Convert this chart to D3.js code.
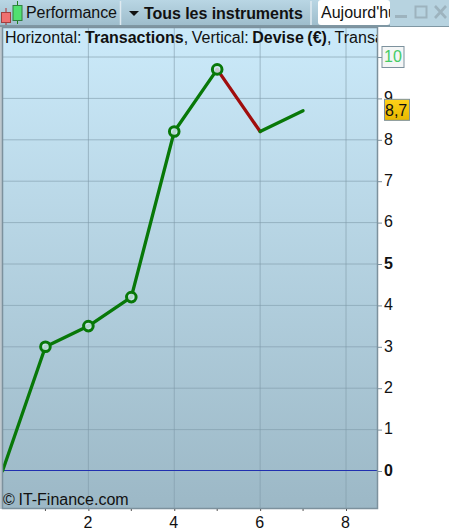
<!DOCTYPE html>
<html><head><meta charset="utf-8">
<script src="https://cdn.jsdelivr.net/npm/d3@7"></script>
<style>html,body{margin:0;padding:0;background:#fff}svg{display:block}text{font-family:"Liberation Sans",Arial,sans-serif}</style>
</head><body><svg id="c" width="449" height="531"></svg>
<script>
const transactions=[0,1,2,3,4,5,6,7];
const devise=[0,3,3.5,4.2,8.2,9.7,8.2,8.7];
const markerIdx=[1,2,3,4,5];
const xTicks=[2,4,6,8];
const xMinor=[1,3,5,7];
const yTicks=[0,1,2,3,4,5,6,7,8,9,10];
const boldY=[0,5];
const svg=d3.select("#c");
const x=d3.scaleLinear().domain([0,8]).range([2.5,346]);
const y=d3.scaleLinear().domain([0,10]).range([471,57]);
const P={l:2,r:378,t:27,b:509};
const defs=svg.append("defs");
const bg=defs.append("linearGradient").attr("id","bg").attr("x1",0).attr("x2",0).attr("y1",0).attr("y2",1);
bg.append("stop").attr("offset",0).attr("stop-color","#cbeafa");
bg.append("stop").attr("offset",1).attr("stop-color","#9cb8c6");
const tb=defs.append("linearGradient").attr("id","tb").attr("x1",0).attr("x2",0).attr("y1",0).attr("y2",1);
tb.append("stop").attr("offset",0).attr("stop-color","#b9d6e4");
tb.append("stop").attr("offset",1).attr("stop-color","#9dbccb");
const gold=defs.append("linearGradient").attr("id","gold").attr("x1",0).attr("x2",0).attr("y1",0).attr("y2",1);
gold.append("stop").attr("offset",0).attr("stop-color","#ffd21a");
gold.append("stop").attr("offset",1).attr("stop-color","#e8b800");
// toolbar
svg.append("rect").attr("width",449).attr("height",26).attr("fill","url(#tb)");
svg.append("rect").attr("y",25).attr("width",449).attr("height",2).attr("fill","#7f97a3");
svg.append("rect").attr("x",379).attr("y",27).attr("width",70).attr("height",504).attr("fill","#fff");
svg.append("rect").attr("x",0).attr("y",509).attr("width",449).attr("height",22).attr("fill","#fff");
// candle icon
svg.append("line").attr("x1",6).attr("x2",6).attr("y1",8).attr("y2",25).attr("stroke","#b03030");
svg.append("rect").attr("x",1.5).attr("y",12.5).attr("width",9).attr("height",10).attr("fill","#f07070").attr("stroke","#a04040");
svg.append("line").attr("x1",17.5).attr("x2",17.5).attr("y1",1).attr("y2",24).attr("stroke","#208020");
svg.append("rect").attr("x",13).attr("y",5.5).attr("width",9).attr("height",15).attr("fill","#50e070").attr("stroke","#308040");
svg.append("text").attr("x",26).attr("y",18).attr("font-size",16).attr("letter-spacing",-0.06).attr("fill","#111").text("Performance");
svg.append("line").attr("x1",120.5).attr("x2",120.5).attr("y1",1).attr("y2",25).attr("stroke","#dfeaf0").attr("stroke-width",1.5);
svg.append("path").attr("d","M129 11h10l-5 5z").attr("fill","#111");
svg.append("text").attr("x",144).attr("y",18.5).attr("font-size",16).attr("font-weight","bold").attr("letter-spacing",-0.05).attr("fill","#111").text("Tous les instruments");
svg.append("line").attr("x1",311).attr("x2",311).attr("y1",1).attr("y2",25).attr("stroke","#dfeaf0").attr("stroke-width",1.5);
svg.append("rect").attr("x",318).attr("y",0).attr("width",72).attr("height",25).attr("rx",3).attr("fill","#fff");
svg.append("text").attr("x",321).attr("y",18).attr("font-size",16).attr("fill","#111").text("Aujourd'hui").attr("clip-path","url(#ac)");
defs.append("clipPath").attr("id","ac").append("rect").attr("x",318).attr("y",0).attr("width",72).attr("height",25);
svg.append("rect").attr("x",390).attr("y",0).attr("width",59).attr("height",26).attr("fill","#b7d3e0");
svg.append("rect").attr("x",395).attr("y",15).attr("width",12).attr("height",3).attr("fill","#9db3be");
svg.append("rect").attr("x",415.5).attr("y",6.5).attr("width",11).attr("height",11).attr("fill","none").attr("stroke","#9db3be").attr("stroke-width",2);
svg.append("path").attr("d","M435 6l11 12M446 6l-11 12").attr("stroke","#9db3be").attr("stroke-width",2.6).attr("fill","none");
// plot
svg.append("rect").attr("x",P.l).attr("y",P.t).attr("width",P.r-P.l).attr("height",P.b-P.t).attr("fill","url(#bg)");
const grid=svg.append("g").attr("stroke","#7f9aa8").attr("stroke-opacity",.6);
xTicks.forEach(t=>grid.append("line").attr("x1",x(t)).attr("x2",x(t)).attr("y1",P.t).attr("y2",P.b));
yTicks.filter(t=>t>0).forEach(t=>grid.append("line").attr("x1",P.l).attr("x2",P.r).attr("y1",y(t)).attr("y2",y(t)));
svg.append("line").attr("x1",P.l).attr("x2",P.r).attr("y1",y(0)-.5).attr("y2",y(0)-.5).attr("stroke","#2030b0");
// line segments
defs.append("clipPath").attr("id","plot").append("rect").attr("x",P.l).attr("y",P.t).attr("width",P.r-P.l).attr("height",P.b-P.t);
const gl=svg.append("g").attr("clip-path","url(#plot)");
for(let i=0;i<devise.length-1;i++){
  gl.append("line").attr("x1",x(transactions[i])).attr("y1",y(devise[i])).attr("x2",x(transactions[i+1])).attr("y2",y(devise[i+1]))
    .attr("stroke",devise[i+1]<devise[i]?"#a00d0d":"#087808").attr("stroke-width",3.3).attr("stroke-linecap","round");
}
markerIdx.forEach(i=>gl.append("circle").attr("cx",x(transactions[i])).attr("cy",y(devise[i])).attr("r",4.8)
  .attr("fill","#cfe6ef").attr("fill-opacity",.85).attr("stroke","#087808").attr("stroke-width",3));
// frame
svg.append("rect").attr("x",P.l+.5).attr("y",P.t+.5).attr("width",P.r-P.l-1).attr("height",P.b-P.t-1).attr("fill","none").attr("stroke","#7c919d").attr("stroke-width",1.5);
svg.append("line").attr("x1",1).attr("x2",1).attr("y1",P.t).attr("y2",P.b).attr("stroke","#7c919d");
// header
const h=svg.append("text").attr("x",5).attr("y",43).attr("font-size",16).attr("word-spacing",-0.9).attr("fill","#111").attr("clip-path","url(#hc)");
defs.append("clipPath").attr("id","hc").append("rect").attr("x",3).attr("y",27).attr("width",374).attr("height",22);
h.append("tspan").text("Horizontal: ");
h.append("tspan").attr("font-weight","bold").text("Transactions");
h.append("tspan").text(", Vertical: ");
h.append("tspan").attr("font-weight","bold").text("Devise (€)");
h.append("tspan").text(", Transactions");
svg.append("text").attr("x",3).attr("y",505).attr("font-size",16).attr("word-spacing",-0.8).attr("fill","#111").text("© IT-Finance.com");
// y axis
const yAxis=d3.axisRight(y).tickValues(yTicks).tickSize(4).tickFormat(d3.format("d"));
const ga=svg.append("g").attr("transform",`translate(${P.r},0)`).call(yAxis);
ga.select(".domain").remove();
ga.selectAll("line").attr("stroke","#7c919d");
ga.selectAll("text").attr("font-size",16).attr("fill","#111").attr("x",6).attr("dy","0.27em").attr("font-family","'Liberation Sans'")
  .attr("font-weight",d=>boldY.includes(d)?"bold":"normal");
ga.selectAll(".tick").filter(d=>d===10).select("text").attr("fill","#44cc66");
ga.selectAll(".tick").filter(d=>d===10).insert("rect","text").attr("x",4).attr("y",-11).attr("width",22).attr("height",21).attr("fill","#f4f6f6").attr("stroke","#7c919d");
// x axis
const xAxis=d3.axisBottom(x).tickValues(xTicks).tickSize(2).tickFormat(d3.format("d"));
const gx=svg.append("g").attr("transform",`translate(0,${P.b})`).call(xAxis);
gx.select(".domain").remove();
gx.selectAll("line").attr("stroke","#555");
gx.selectAll("text").attr("font-size",16).attr("fill","#111").attr("y",8).attr("dx",-1).attr("font-family","'Liberation Sans'");
xMinor.forEach(t=>gx.append("line").attr("x1",x(t)).attr("x2",x(t)).attr("y1",0).attr("y2",2).attr("stroke","#555"));
// current value
const last=devise[devise.length-1];
svg.append("rect").attr("x",384.5).attr("y",y(last)-11.5).attr("width",25).attr("height",21).attr("fill","url(#gold)").attr("stroke","#7c919d");
svg.append("text").attr("x",385).attr("y",y(last)+5).attr("font-size",16).attr("fill","#111").text(String(last).replace(".",","));
</script></body></html>
